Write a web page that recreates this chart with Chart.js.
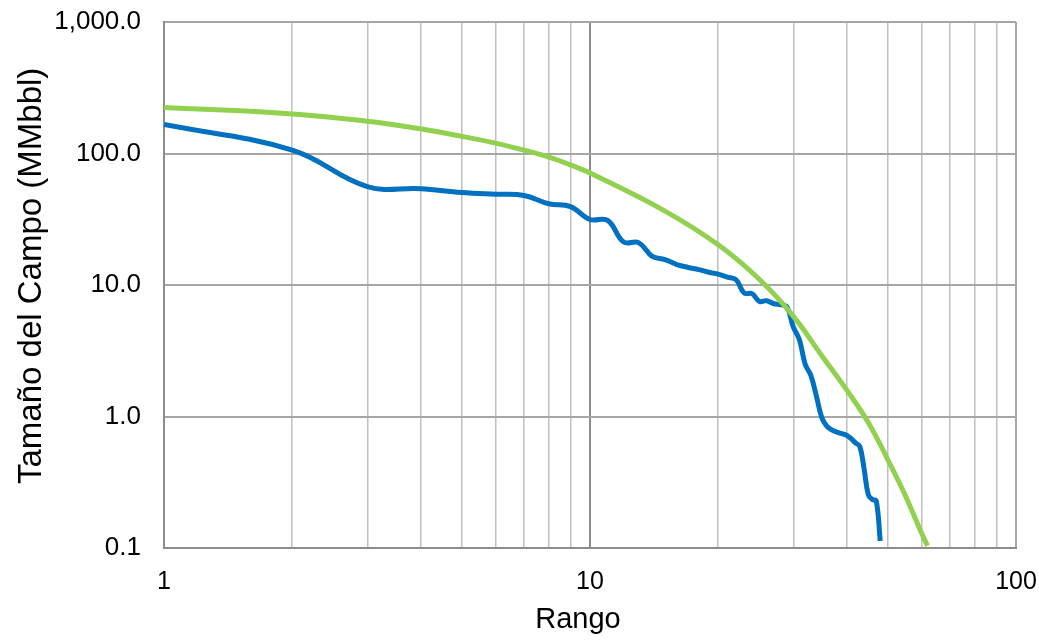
<!DOCTYPE html>
<html>
<head>
<meta charset="utf-8">
<script src="https://cdn.jsdelivr.net/npm/chart.js@4/dist/chart.umd.min.js"></script>
<style>
  html, body { margin: 0; padding: 0; background: #ffffff; }
  #wrap { width: 1039px; height: 640px; }
</style>
</head>
<body>
<div id="wrap"><canvas id="c" width="1039" height="640"></canvas></div>
<script>
// Observed field sizes by rank (blue)
const blueRanks = [1,2,3,4,5,6,7,8,9,10,11,12,13,14,15,16,17,18,19,20,21,22,23,24,25,26,27,28,29,30,31,32,33,34,35,36,37,38,39,40,41,42,43,44,45,46,47,48];
const blueSizes = [166,106,56,54,50.5,49,48,41.5,39.5,31.5,31,21.2,21,16.5,15.6,14.3,13.6,13.1,12.5,12.1,11.5,11.0,8.7,8.6,7.5,7.6,7.2,7.1,6.8,4.8,3.85,2.5,2.05,1.43,0.98,0.84,0.79,0.76,0.74,0.72,0.68,0.63,0.59,0.40,0.255,0.234,0.227,0.113];

// Fitted curve (green)
const greenRanks = [1,2,3,4,5,6,7,8,9,10,15,20,25,30,35,40,45,50,55,60,62];
const greenSizes = [224,200,176,154,135,120,106,94,82,71,36.5,20.2,11.0,5.8,2.9,1.6,0.9,0.47,0.25,0.13,0.104];

// Axis ticks
const xTickValues = [1,2,3,4,5,6,7,8,9,10,20,30,40,50,60,70,80,90,100];
const xTickLabels = [1,10,100];
const yTickValues = [0.1,1,10,100,1000];

const xTitle = 'Rango';
const yTitle = 'Tamaño del Campo (MMbbl)';

const toPts = (xs, ys) => xs.map((x, i) => ({ x: x, y: ys[i] }));

const FONT = "'Liberation Sans', Arial, sans-serif";

new Chart(document.getElementById('c'), {
  type: 'line',
  data: {
    datasets: [
      {
        label: 'Ajuste',
        data: toPts(greenRanks, greenSizes),
        borderColor: '#92D050',
        backgroundColor: '#92D050',
        borderWidth: 5,
        pointRadius: 0,
        tension: 0.4,
        fill: false
      },
      {
        label: 'Campos',
        data: toPts(blueRanks, blueSizes),
        borderColor: '#0070C0',
        backgroundColor: '#0070C0',
        borderWidth: 5,
        pointRadius: 0,
        tension: 0.4,
        fill: false
      }
    ]
  },
  options: {
    responsive: false,
    devicePixelRatio: 1,
    animation: false,
    layout: { padding: 0 },
    plugins: {
      legend: { display: false },
      tooltip: { enabled: false }
    },
    scales: {
      x: {
        type: 'logarithmic',
        min: 1,
        max: 100,
        afterBuildTicks: (s) => { s.ticks = xTickValues.map(v => ({ value: v })); },
        afterFit: (s) => { s.height = 92; s.paddingRight = 23; s.paddingLeft = 0; },
        border: { display: true, color: '#8C8C8C', width: 2 },
        grid: {
          drawTicks: false,
          color: (ctx) => {
            const v = ctx.tick && ctx.tick.value;
            if (v === 10) return '#8C8C8C';
            if (v === 1 || v === 100) return '#A6A6A6';
            return '#C0C0C0';
          },
          lineWidth: (ctx) => {
            const v = ctx.tick && ctx.tick.value;
            return (v === 10 || v === 1 || v === 100) ? 2 : 1.5;
          }
        },
        ticks: {
          autoSkip: false,
          maxRotation: 0,
          minRotation: 0,
          padding: 19,
          color: '#000000',
          font: { family: FONT, size: 25 },
          callback: (v) => (xTickLabels.indexOf(v) >= 0 ? String(v) : '')
        },
        title: {
          display: true,
          text: xTitle + '   ',
          color: '#000000',
          font: { family: FONT, size: 29 },
          padding: { top: 0, bottom: 3 }
        }
      },
      y: {
        type: 'logarithmic',
        min: 0.1,
        max: 1000,
        afterBuildTicks: (s) => { s.ticks = yTickValues.map(v => ({ value: v })); },
        afterFit: (s) => { s.width = 164; s.paddingTop = 22; s.paddingBottom = 0; },
        border: { display: true, color: '#8C8C8C', width: 2 },
        grid: {
          drawTicks: false,
          color: '#A6A6A6',
          lineWidth: 2
        },
        ticks: {
          autoSkip: false,
          padding: 23,
          color: '#000000',
          font: { family: FONT, size: 26 },
          callback: (v) => Number(v).toLocaleString('en-US', { minimumFractionDigits: 1, maximumFractionDigits: 1 })
        },
        title: {
          display: true,
          text: '  ' + yTitle,
          color: '#000000',
          font: { family: FONT, size: 33 },
          padding: { top: 12, bottom: 0 }
        }
      }
    }
  }
});
</script>
</body>
</html>
